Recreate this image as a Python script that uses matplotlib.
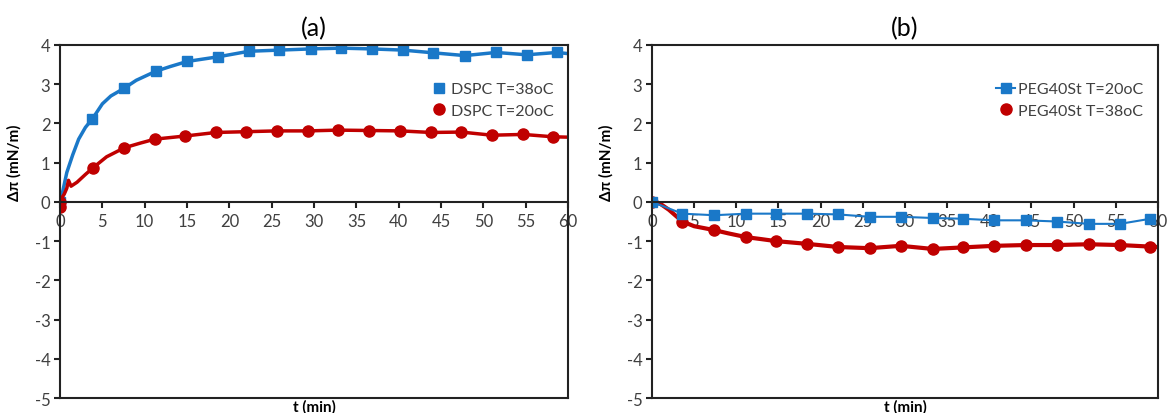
# coding: utf-8
# Surface pressure change vs time, DSPC (a) and PEG40St (b) monolayers.

import matplotlib
matplotlib.use("Agg")
import matplotlib.pyplot as plt
from matplotlib.lines import Line2D

plt.rcParams['font.family'] = ['Lato', 'DejaVu Sans']
plt.rcParams['axes.unicode_minus'] = False

BLUE = '#1a78c8'
RED = '#c00000'

# (a) DSPC, T=38oC: dense trace and marker points
dspc38_trace_t = [0, 0.3, 0.8, 1.5, 2.2, 3.0, 3.8, 5.0, 6.0, 7.6, 9.0, 11.3, 13.0,
                  15.0, 18.7, 22.3, 25.9, 29.6, 33.2, 36.8, 40.5, 44.1, 47.8, 51.5,
                  55.1, 58.7, 60]
dspc38_trace = [0, 0.25, 0.75, 1.2, 1.6, 1.9, 2.11, 2.5, 2.7, 2.9, 3.1, 3.33, 3.45,
                3.58, 3.70, 3.84, 3.87, 3.9, 3.92, 3.9, 3.87, 3.8, 3.73, 3.81,
                3.75, 3.81, 3.78]
dspc38_mark_t = [0, 3.8, 7.6, 11.3, 15.0, 18.7, 22.3, 25.9, 29.6, 33.2, 36.8, 40.5,
                 44.1, 47.8, 51.5, 55.1, 58.7]
dspc38_mark = [0, 2.11, 2.9, 3.33, 3.58, 3.70, 3.84, 3.87, 3.9, 3.92, 3.9, 3.87,
               3.8, 3.73, 3.81, 3.75, 3.81]

# (a) DSPC, T=20oC
dspc20_trace_t = [0, 0.2, 0.5, 0.8, 1.0, 1.3, 2.0, 3.0, 3.9, 5.5, 7.6, 9.5, 11.2,
                  14.8, 18.4, 22.0, 25.6, 29.3, 32.8, 36.5, 40.2, 43.8, 47.4, 51.0,
                  54.7, 58.2, 60]
dspc20_trace = [-0.15, 0.1, 0.2, 0.35, 0.55, 0.4, 0.5, 0.7, 0.87, 1.15, 1.38, 1.5,
                1.6, 1.68, 1.77, 1.79, 1.81, 1.81, 1.83, 1.82, 1.81, 1.77, 1.78,
                1.7, 1.72, 1.66, 1.65]
dspc20_mark_t = [0, 0, 3.9, 7.6, 11.2, 14.8, 18.4, 22.0, 25.6, 29.3, 32.8, 36.5,
                 40.2, 43.8, 47.4, 51.0, 54.7, 58.2]
dspc20_mark = [0.0, -0.12, 0.87, 1.38, 1.6, 1.68, 1.77, 1.79, 1.81, 1.81, 1.83,
               1.82, 1.81, 1.77, 1.78, 1.7, 1.72, 1.66]

# (b) PEG40St, T=20oC (markers joined by a thin line)
peg20_t = [0, 3.6, 7.4, 11.2, 14.7, 18.4, 22.1, 25.8, 29.5, 33.3, 36.9, 40.6,
           44.3, 48.0, 51.8, 55.5, 59.1]
peg20 = [0, -0.3, -0.34, -0.3, -0.3, -0.3, -0.32, -0.38, -0.38, -0.41, -0.43,
         -0.47, -0.47, -0.5, -0.56, -0.56, -0.43]

# (b) PEG40St, T=38oC
peg38_trace_t = [0, 1, 2, 3.6, 5, 7.4, 9, 11.2, 13, 14.7, 18.4, 22.1, 25.8, 29.5,
                 33.3, 36.9, 40.6, 44.3, 48, 51.8, 55.5, 59.1, 60]
peg38_trace = [0, -0.05, -0.2, -0.5, -0.62, -0.72, -0.8, -0.9, -0.95, -1.0, -1.07,
               -1.15, -1.18, -1.12, -1.2, -1.16, -1.12, -1.1, -1.1, -1.08, -1.1,
               -1.14, -1.15]
peg38_mark_t = [0, 3.6, 7.4, 11.2, 14.7, 18.4, 22.1, 25.8, 29.5, 33.3, 36.9, 40.6,
                44.3, 48.0, 51.8, 55.5, 59.1]
peg38_mark = [0, -0.5, -0.72, -0.9, -1.0, -1.07, -1.15, -1.18, -1.12, -1.2, -1.16,
              -1.12, -1.1, -1.1, -1.08, -1.1, -1.14]

x_ticks = list(range(0, 61, 5))
y_ticks = list(range(-5, 5))


def style_axes(ax, title):
    ax.set_xlim(0, 60)
    ax.set_ylim(-5, 4)
    ax.set_xticks(x_ticks)
    ax.set_yticks(y_ticks)
    for s in ax.spines.values():
        s.set_linewidth(1.5)
        s.set_color('#222222')
    # x axis sits on y = 0, Excel style; close the box at the bottom by hand
    ax.spines['bottom'].set_position(('data', 0))
    ax.plot([0, 1], [0, 0], transform=ax.transAxes, color='#222222', lw=1.5,
            clip_on=False, zorder=5)
    ax.tick_params(axis='both', direction='out', length=4, width=1.5,
                   labelsize=12, labelcolor='#404040', color='#222222', pad=3)
    ax.tick_params(axis='x', pad=4)
    ax.set_xlabel('t (min)', fontsize=11, fontweight='bold')
    ax.xaxis.set_label_coords(0.5, -0.003)
    ax.set_ylabel('Δπ (mN/m)', fontsize=11, fontweight='bold')
    ax.yaxis.set_label_coords(-0.075, 0.67)
    ax.set_title(title, fontsize=18, pad=7)


fig = plt.figure(figsize=(11.68, 4.14), dpi=100)
ax1 = fig.add_axes([0.0514, 0.0362, 0.435, 0.8527])
ax2 = fig.add_axes([0.5582, 0.0362, 0.4332, 0.8527])

# (a)
ax1.plot(dspc38_trace_t, dspc38_trace, color=BLUE, lw=2.5, solid_joinstyle='round')
ax1.plot(dspc38_mark_t, dspc38_mark, 's', color=BLUE, ms=7)
ax1.plot(dspc20_trace_t, dspc20_trace, color=RED, lw=2.5, solid_joinstyle='round')
ax1.plot(dspc20_mark_t, dspc20_mark, 'o', color=RED, ms=8)
style_axes(ax1, '(a)')
h1 = [Line2D([], [], ls='none', marker='s', color=BLUE, ms=7),
      Line2D([], [], ls='none', marker='o', color=RED, ms=8)]
ax1.legend(h1, ['DSPC T=38oC', 'DSPC T=20oC'], loc='upper right',
           bbox_to_anchor=(1.0, 0.935), frameon=False, fontsize=11.5,
           handlelength=0.9, handletextpad=0.3, labelspacing=0.45,
           labelcolor='#404040')

# (b)
ax2.plot(peg38_trace_t, peg38_trace, color=RED, lw=3, solid_joinstyle='round')
ax2.plot(peg38_mark_t, peg38_mark, 'o', color=RED, ms=8)
ax2.plot(peg20_t, peg20, '-s', color=BLUE, lw=1.5, ms=7)
style_axes(ax2, '(b)')
h2 = [Line2D([], [], ls='-', lw=1.5, marker='s', color=BLUE, ms=7),
      Line2D([], [], ls='none', marker='o', color=RED, ms=8)]
ax2.legend(h2, ['PEG40St T=20oC', 'PEG40St T=38oC'], loc='upper right',
           bbox_to_anchor=(1.0, 0.935), frameon=False, fontsize=11.5,
           handlelength=1.2, handletextpad=0.2, labelspacing=0.45,
           labelcolor='#404040')

fig.savefig('out.png', dpi=100)
